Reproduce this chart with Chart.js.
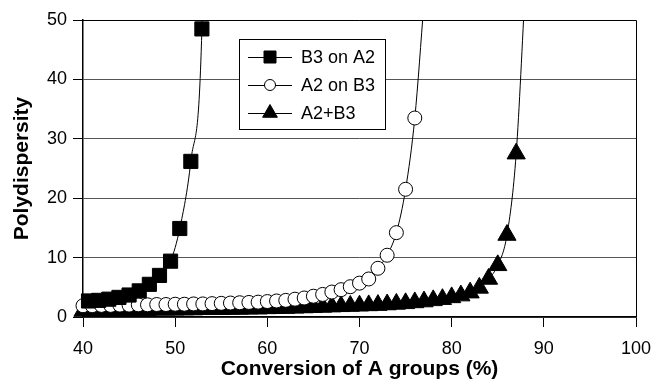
<!DOCTYPE html>
<html lang="en">
<head>
<meta charset="utf-8">
<title>Polydispersity</title>
<script src="https://cdn.jsdelivr.net/npm/chart.js"></script>
<style>
  html, body { margin: 0; padding: 0; background: #fff; }
</style>
</head>
<body>
<canvas id="polyChart" width="652" height="384"></canvas>
<script>
// B3 on A2
const b3OnA2X = [40.6, 41.7, 42.8, 43.9, 45.0, 46.1, 47.2, 48.3, 49.5, 50.5, 51.7, 52.9, 54.0];
const b3OnA2Y = [2.7, 2.8, 3.0, 3.3, 3.7, 4.4, 5.5, 7.0, 9.4, 14.9, 26.2, 48.5, 150];

// A2 on B3 (x = 40 .. 77)
const a2OnB3X = [40, 41, 42, 43, 44, 45, 46, 47, 48, 49, 50, 51, 52, 53, 54, 55, 56, 57, 58, 59,
                 60, 61, 62, 63, 64, 65, 66, 67, 68, 69, 70, 71, 72, 73, 74, 75, 76, 77];
const a2OnB3Y = [1.9, 1.9, 1.95, 1.95, 2.0, 2.0, 2.05, 2.05, 2.1, 2.1, 2.15, 2.15, 2.2, 2.2, 2.25, 2.3, 2.35, 2.4, 2.45, 2.5,
                 2.6, 2.7, 2.8, 3.0, 3.2, 3.5, 3.8, 4.2, 4.6, 5.1, 5.7, 6.4, 8.2, 10.4, 14.2, 21.5, 33.5, 53];

// A2+B3 (x = 40 .. 88)
const a2B3X = [40, 41, 42, 43, 44, 45, 46, 47, 48, 49, 50, 51, 52, 53, 54, 55, 56, 57, 58, 59,
               60, 61, 62, 63, 64, 65, 66, 67, 68, 69, 70, 71, 72, 73, 74, 75, 76, 77, 78, 79,
               80, 81, 82, 83, 84, 85, 86, 87, 88];
const a2B3Y = [1.0, 1.05, 1.05, 1.1, 1.1, 1.1, 1.15, 1.15, 1.2, 1.2, 1.2, 1.25, 1.25, 1.3, 1.3, 1.3, 1.35, 1.35, 1.4, 1.4,
               1.45, 1.5, 1.5, 1.55, 1.6, 1.65, 1.7, 1.75, 1.8, 1.85, 1.9, 1.95, 2.0, 2.1, 2.2, 2.3, 2.45, 2.6, 2.8, 3.0,
               3.3, 3.6, 4.1, 4.9, 6.4, 8.7, 13.8, 27.5, 56];

const xTicks = [40, 50, 60, 70, 80, 90, 100];
const yTicks = [0, 10, 20, 30, 40, 50];

const FONT = '"Liberation Sans", Arial, sans-serif';

function toPoints(xs, ys) {
    return xs.map((x, i) => ({x: x, y: ys[i]}));
}

function series(label, xs, ys, style, radius, fill, legendRadius) {
    return {
        label: label,
        data: toPoints(xs, ys),
        borderColor: '#000',
        borderWidth: 1,
        pointStyle: style,
        pointRadius: radius,
        pointBackgroundColor: fill,
        pointBorderColor: '#000',
        pointBorderWidth: 1,
        cubicInterpolationMode: 'monotone',
        clip: {left: 20, bottom: 20, top: 0, right: 0},
        legendRadius: legendRadius
    };
}

// draws one marker, used by the legend box
function marker(ctx, style, x, y, r, fill) {
    ctx.beginPath();
    if (style === 'rect') {
        ctx.rect(x - r, y - r, 2 * r, 2 * r);
    } else if (style === 'circle') {
        ctx.arc(x, y, r, 0, Math.PI * 2);
    } else {
        ctx.moveTo(x, y - r);
        ctx.lineTo(x + r * 0.866, y + r / 2);
        ctx.lineTo(x - r * 0.866, y + r / 2);
        ctx.closePath();
    }
    ctx.fillStyle = fill;
    ctx.fill();
    ctx.stroke();
}

const frame = {
    id: 'frame',
    beforeDatasetsDraw(chart) {
        const a = chart.chartArea;
        const ctx = chart.ctx;
        ctx.save();
        ctx.strokeStyle = '#000';
        ctx.lineWidth = 1;
        ctx.beginPath();
        ctx.moveTo(a.left, a.top + 0.5);
        ctx.lineTo(a.right + 0.5, a.top + 0.5);
        ctx.lineTo(a.right + 0.5, a.bottom);
        ctx.stroke();
        ctx.restore();
    }
};

const boxLegend = {
    id: 'boxLegend',
    afterDatasetsDraw(chart) {
        const ctx = chart.ctx;
        ctx.save();
        ctx.lineWidth = 1;
        ctx.strokeStyle = '#000';
        ctx.fillStyle = '#fff';
        ctx.fillRect(239.5, 39.5, 146, 90);
        ctx.strokeRect(239.5, 39.5, 146, 90);
        chart.data.datasets.forEach((ds, i) => {
            const y = 57 + i * 28;
            ctx.strokeStyle = '#000';
            ctx.beginPath();
            ctx.moveTo(248, y + 0.5);
            ctx.lineTo(292, y + 0.5);
            ctx.stroke();
            marker(ctx, ds.pointStyle, 270, y, ds.legendRadius, ds.pointBackgroundColor);
            ctx.fillStyle = '#000';
            ctx.font = '18px ' + FONT;
            ctx.textBaseline = 'middle';
            ctx.fillText(ds.label, 301, y + 1);
        });
        ctx.restore();
    }
};

new Chart(document.getElementById('polyChart'), {
    type: 'line',
    data: {
        datasets: [
            series('B3 on A2', b3OnA2X, b3OnA2Y, 'rect', 10, '#000', 6),
            series('A2 on B3', a2OnB3X, a2OnB3Y, 'circle', 7, '#fff', 5.5),
            series('A2+B3', a2B3X, a2B3Y, 'triangle', 10.5, '#000', 8.5)
        ]
    },
    options: {
        responsive: false,
        animation: false,
        layout: {padding: {top: 20, right: 16, left: 0, bottom: 0}},
        plugins: {
            legend: {display: false},
            tooltip: {enabled: false}
        },
        scales: {
            x: {
                type: 'linear',
                min: 40,
                max: 100,
                afterFit: s => { s.height = 67; s.paddingRight = 0; s.paddingLeft = 0; },
                afterBuildTicks: s => { s.ticks = xTicks.map(v => ({value: v})); },
                grid: {drawOnChartArea: false, drawTicks: true, tickLength: 10, tickColor: '#000'},
                border: {color: '#000', width: 1.5},
                ticks: {color: '#000', padding: 11, font: {family: FONT, size: 18}},
                title: {
                    display: true,
                    text: 'Conversion of A groups (%)',
                    color: '#000',
                    padding: {top: 0, bottom: 2},
                    font: {family: FONT, size: 21, weight: 'bold'}
                }
            },
            y: {
                min: 0,
                max: 50,
                afterFit: s => { s.width = 83; },
                afterBuildTicks: s => { s.ticks = yTicks.map(v => ({value: v})); },
                grid: {color: '#555', lineWidth: 1, tickLength: 10, tickColor: '#000'},
                border: {color: '#000', width: 1.5},
                ticks: {color: '#000', padding: 6, font: {family: FONT, size: 18}},
                title: {
                    display: true,
                    text: 'Polydispersity',
                    color: '#000',
                    padding: {top: 10, bottom: 0},
                    font: {family: FONT, size: 21, weight: 'bold'}
                }
            }
        }
    },
    plugins: [frame, boxLegend]
});
</script>
</body>
</html>
